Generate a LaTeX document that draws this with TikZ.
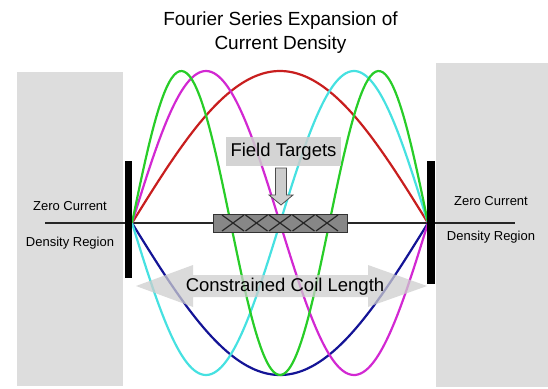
\documentclass[tikz,border=0pt]{standalone}
\usepackage{fontspec}
\setmainfont{Liberation Sans}
\usepackage{tikz}
\usetikzlibrary{positioning}
\definecolor{panelgray}{RGB}{221,221,221}
\definecolor{softgray}{RGB}{205,205,205}
\definecolor{targetgray}{RGB}{135,135,135}
\definecolor{modered}{RGB}{200,30,30}
\definecolor{modegreen}{RGB}{40,205,40}
\definecolor{modemagenta}{RGB}{210,40,210}
\definecolor{modecyan}{RGB}{70,225,225}
\definecolor{modeblue}{RGB}{20,20,150}

\begin{document}
\begin{tikzpicture}[
  x=1pt, y=-1pt,
  mode/.style={line width=2.2pt, smooth, samples=120, domain=0:1},
  zone/.style={font=\fontsize{13}{15}\selectfont},
  big/.style={font=\fontsize{18.5}{22}\selectfont},
  endbar/.style={fill=black},
  cross/.style={line width=1.2pt, black!85}
]
\useasboundingbox (0,0) rectangle (548,388);
\fill[panelgray] (17,72) rectangle (123,386);
\fill[panelgray] (436,63) rectangle (548,387);
\node[align=center, font=\fontsize{19}{24}\selectfont] (title) at (280.5,33) {Fourier Series Expansion of\\Current Density};
\draw[line width=1.5pt, black!85] (45,223) -- (515,223);
\draw[mode, modered] plot ({132+296*\x}, {223-152*sin(180*\x)});
\draw[mode, modeblue] plot ({132+296*\x}, {223+152*sin(180*\x)});
\draw[mode, modemagenta] plot ({132+296*\x}, {223-152*sin(360*\x)});
\draw[mode, modecyan] plot ({132+296*\x}, {223+152*sin(360*\x)});
\draw[mode, modegreen] plot ({132+296*\x}, {223-152*sin(540*\x)});
\fill[endbar] (125,161) rectangle (132,278);
\fill[endbar] (427,161) rectangle (435,284);
\node[zone] (zeroL) at (70,206) {Zero Current};
\node[zone] (densL) at (70,243) {Density Region};
\node[zone] (zeroR) at (491,201) {Zero Current};
\node[zone] (densR) at (491,237) {Density Region};
\node[draw=black!80, fill=targetgray, line width=1pt, minimum width=134, minimum height=18, inner sep=0] (targets) at (280,223) {};
\foreach \k in {-2,...,2} {
  \draw[cross] ({280+23.5*\k-11},215) -- ++(22,16);
  \draw[cross] ({280+23.5*\k+11},215) -- ++(-22,16);
}
\node[big, fill=softgray, fill opacity=0.85, text opacity=1, minimum height=29, inner xsep=5] (ftlabel) at (283.5,151.5) {Field Targets};
\draw[gray!60!black, fill=softgray, line width=0.8pt] (275.5,168) -- (286.5,168) -- (286.5,195) -- (293,195) -- (281,205) -- (269,195) -- (275.5,195) -- cycle;
\fill[softgray, fill opacity=0.75] (136,286) -- (193,265) -- (193,275) -- (368,275) -- (368,265) -- (427,286) -- (368,307) -- (368,297) -- (193,297) -- (193,307) -- cycle;
\node[big] (coil) at (285,287) {Constrained Coil Length};
\end{tikzpicture}
\end{document}
